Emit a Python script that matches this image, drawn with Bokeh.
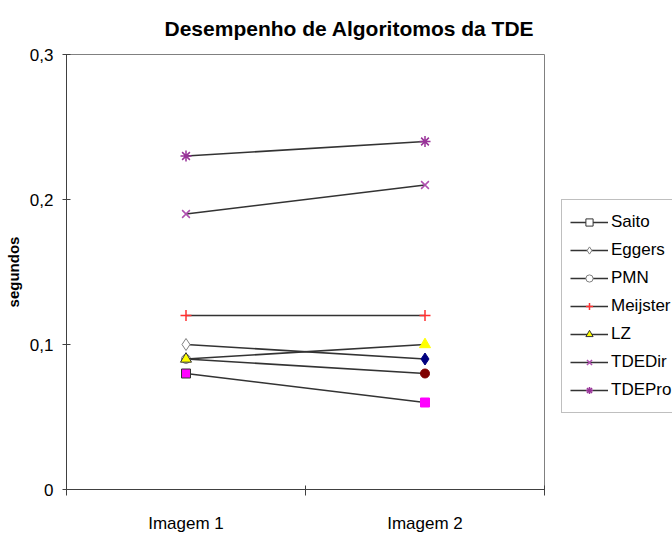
from bokeh.plotting import figure
from bokeh.layouts import row
from bokeh.models import (Range1d, FixedTicker, Legend, LegendItem, ColumnDataSource)
from bokeh.embed import file_html
from bokeh.resources import INLINE

# ---- data ----
categories = ["Imagem 1", "Imagem 2"]
series_names = ["Saito", "Eggers", "PMN", "Meijster", "LZ", "TDEDir", "TDEPro"]
saito = [0.08, 0.06]
eggers = [0.10, 0.09]
pmn = [0.09, 0.08]
meijster = [0.12, 0.12]
lz = [0.09, 0.10]
tdedir = [0.19, 0.21]
tdepro = [0.23, 0.24]
y_ticks = [0.0, 0.1, 0.2, 0.3]
y_tick_labels = ["0", "0,1", "0,2", "0,3"]

values = [saito, eggers, pmn, meijster, lz, tdedir, tdepro]

FONT = "Liberation Sans"
x = [i + 0.5 for i in range(len(categories))]

p = figure(width=560, height=535, output_backend="svg", toolbar_location=None,
           x_range=Range1d(0, len(categories)), y_range=Range1d(0, 0.3),
           min_border_left=66, min_border_right=16, min_border_top=53, min_border_bottom=39)
p.background_fill_color = "white"
p.border_fill_color = "white"
p.outline_line_color = "#808080"
p.outline_line_width = 1
p.xgrid.visible = False
p.ygrid.visible = False

# title
p.title.text = "Desempenho de Algoritomos da TDE"
p.title.text_font = FONT
p.title.text_font_size = "21px"
p.title.text_font_style = "bold"
p.title.text_color = "black"
p.title.align = "left"
p.title.offset = 98
p.title.standoff = 29

# x axis
xa = p.xaxis[0]
xa.ticker = FixedTicker(ticks=x, minor_ticks=list(range(len(categories) + 1)))
xa.major_label_overrides = {xv: c for xv, c in zip(x, categories)}
xa.major_tick_line_color = None
xa.major_tick_in = 0
xa.major_tick_out = 0
xa.minor_tick_in = 4
xa.minor_tick_out = 6
xa.minor_tick_line_color = "#404040"
xa.axis_line_color = "#404040"
xa.major_label_standoff = 18
xa.major_label_text_font = FONT
xa.major_label_text_font_size = "17px"
xa.major_label_text_color = "black"

# y axis
ya = p.yaxis[0]
ya.ticker = FixedTicker(ticks=y_ticks, minor_ticks=[])
ya.major_label_overrides = {t: l for t, l in zip(y_ticks, y_tick_labels)}
ya.major_tick_in = 4
ya.major_tick_out = 4
ya.major_tick_line_color = "#404040"
ya.axis_line_color = "#404040"
ya.major_label_standoff = 9
ya.major_label_text_font = FONT
ya.major_label_text_font_size = "17px"
ya.major_label_text_color = "black"
ya.axis_label = "segundos"
ya.axis_label_text_font = FONT
ya.axis_label_text_font_size = "15px"
ya.axis_label_text_font_style = "bold"
ya.axis_label_text_color = "black"
ya.axis_label_standoff = 5

LINE = "#333333"
point_styles = {
    "Saito":    ("square", 9, ["#FF00FF", "#FF00FF"], ["#333333", "#FF00FF"]),
    "Eggers":   ("diamond", 12, ["white", "#000080"], ["#808080", "#000080"]),
    "PMN":      ("circle", 9, ["white", "#800000"], ["#808080", "#800000"]),
    "Meijster": ("cross", 11, ["#FF0000", "#FF0000"], ["#FF3030", "#FF3030"]),
    "LZ":       ("triangle", 11, ["#FFFF00", "#FFFF00"], ["#333333", "#FFFF00"]),
    "TDEDir":   ("x", 11, ["#B050B0", "#B050B0"], ["#B050B0", "#B050B0"]),
    "TDEPro":   ("asterisk", 11, ["#993399", "#993399"], ["#993399", "#993399"]),
}
legend_styles = {
    "Saito":    ("square", 7, "white", "#333333"),
    "Eggers":   ("diamond", 9, "white", "#808080"),
    "PMN":      ("circle", 7, "white", "#808080"),
    "Meijster": ("cross", 9, "#FF0000", "#FF3030"),
    "LZ":       ("triangle", 9, "#FFFF00", "#333333"),
    "TDEDir":   ("x", 9, "#B050B0", "#B050B0"),
    "TDEPro":   ("asterisk", 9, "#993399", "#993399"),
}

# legend lives in a narrow companion figure to the right of the plot
lp = figure(width=112, height=535, output_backend="svg", toolbar_location=None,
            x_axis_type=None, y_axis_type=None, x_range=Range1d(0, 1), y_range=Range1d(0, 1),
            min_border=0, min_border_left=0, min_border_right=0, min_border_top=0,
            min_border_bottom=0)
lp.outline_line_color = None
lp.background_fill_color = "white"
lp.border_fill_color = "white"
lp.xgrid.visible = False
lp.ygrid.visible = False

items = []
for name, vals in zip(series_names, values):
    p.line(x, vals, line_color=LINE, line_width=1.5)
    m, s, fills, lines = point_styles[name]
    src = ColumnDataSource(dict(x=x, y=vals, fc=fills, lc=lines))
    p.scatter("x", "y", source=src, marker=m, size=s, fill_color="fc", line_color="lc",
              line_width=1.5 if m in ("cross", "x", "asterisk") else 1)
    lm, ls, lf, ll = legend_styles[name]
    nan = [float("nan")]
    llr = lp.line(nan, nan, line_color=LINE, line_width=1.5)
    lmr = lp.scatter(nan, nan, marker=lm, size=ls, fill_color=lf, line_color=ll,
                     line_width=1.5 if lm in ("cross", "x", "asterisk") else 1)
    items.append(LegendItem(label=name, renderers=[llr, lmr]))

legend = Legend(items=items, location=(1, 76), orientation="vertical")
legend.border_line_color = "#808080"
legend.border_line_width = 1
legend.background_fill_color = "white"
legend.background_fill_alpha = 1
legend.padding = 8
legend.margin = 0
legend.spacing = 0
legend.glyph_width = 38
legend.glyph_height = 18
legend.label_height = 28
legend.label_standoff = 3
legend.label_text_font = FONT
legend.label_text_font_size = "17px"
legend.label_text_color = "black"
legend.label_text_baseline = "middle"
lp.add_layout(legend, "center")

layout = row(p, lp, spacing=0)
open("out.html", "w").write(file_html(layout, INLINE))
